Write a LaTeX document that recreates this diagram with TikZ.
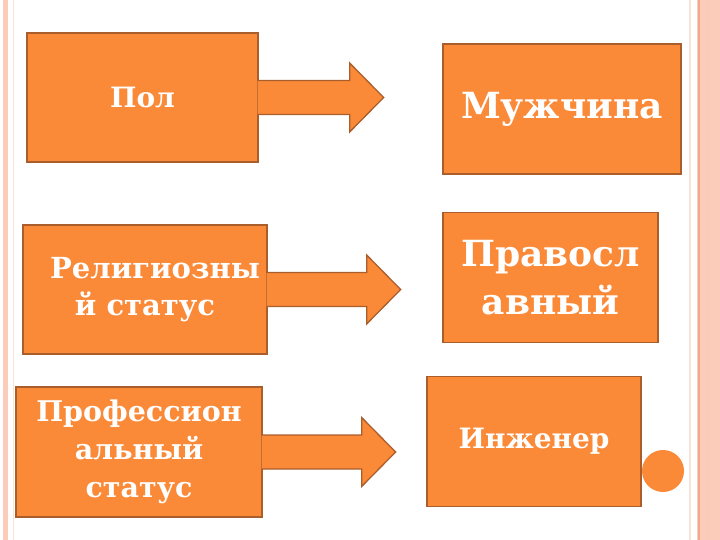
\documentclass[tikz,border=0pt]{standalone}
\usepackage{fontspec}
\setmainfont{DejaVu Serif}
\usetikzlibrary{positioning,calc}

\definecolor{boxorange}{RGB}{250,137,56}
\definecolor{boxedge}{RGB}{170,94,44}
\definecolor{stripe}{RGB}{252,204,186}
\definecolor{stripedark}{RGB}{242,168,140}
\definecolor{stripelight}{RGB}{250,226,214}

\tikzset{
	blokk/.style={draw=boxedge, line width=1.3pt, fill=boxorange, text=white, align=center, inner sep=0pt},
	pil/.style={draw=boxedge, line width=1.3pt, fill=boxorange, line join=miter}
}

% blokkpil fra høyre kant av en node, #2 = lengde
\newcommand{\blokkpil}[2]{%
	\filldraw[pil] ($(#1.east)+(-1,-17)$) -- ++({#2-33},0) -- ++(0,-17.5) --
	($(#1.east)+(#2,0)$) -- ($(#1.east)+({#2-34},34.5)$) -- ++(0,-17.5) -- ($(#1.east)+(-1,17)$);}

\begin{document}
\begin{tikzpicture}[x=1pt, y=-1pt]
		\useasboundingbox (0,0) rectangle (720,540);

		% Kantstriper
		\fill[stripe] (3,0) rectangle (8,540);
		\draw[stripelight, line width=1pt] (13,0) -- (13,540);
		\draw[stripelight, line width=1.5pt] (690,0) -- (690,540);
		\fill[stripe] (697,0) rectangle (720,540);
		\draw[stripedark, line width=1.5pt] (699,0) -- (699,540);
		\draw[stripedark!60, line width=1pt] (708,0) -- (708,540);

		% Venstre kolonne
		\node[blokk, minimum width=231, minimum height=129, font=\bfseries\fontsize{28}{36}\selectfont] (pol) at (142.5,97.5) {Пол};
		\node[blokk, minimum width=244, minimum height=129, font=\bfseries\fontsize{29}{37}\selectfont] (relig) at (145,289.5) {\hspace*{20pt}Религиозны\\й статус};
		\node[blokk, minimum width=246, minimum height=130, font=\bfseries\fontsize{28.5}{38}\selectfont] (prof) at (139,452) {Профессион\\альный\\статус};

		% Høyre kolonne
		\node[blokk, minimum width=238, minimum height=130, font=\bfseries\fontsize{36}{44}\selectfont] (muzh) at (562,109) {Мужчина};
		\node[blokk, minimum width=215, minimum height=130, font=\bfseries\fontsize{36}{48}\selectfont] (pravosl) at (550.5,277.5) {Правосл\\авный};
		\node[blokk, minimum width=214, minimum height=130, font=\bfseries\fontsize{28}{36}\selectfont] (inzh) at (534,441.5) {Инженер};

		% Piler
		\blokkpil{pol}{125}
		\blokkpil{relig}{133}
		\blokkpil{prof}{133}

		% Sirkel
		\fill[boxorange] (663,471) circle (21);
	\end{tikzpicture}
\end{document}
